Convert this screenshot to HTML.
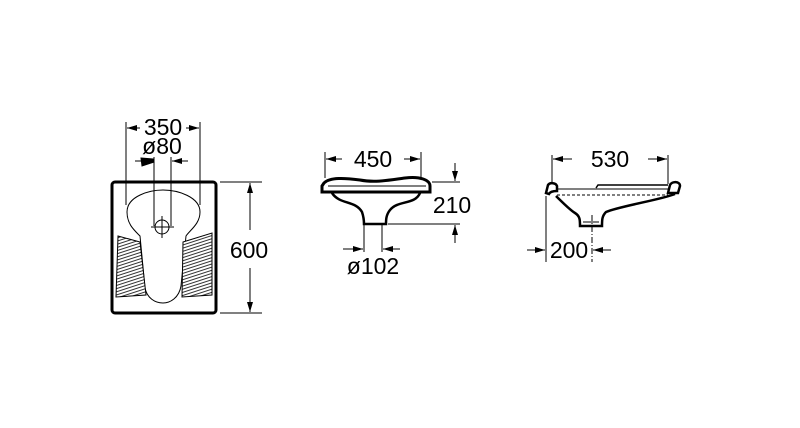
<!DOCTYPE html>
<html><head><style>body{margin:0;background:#fff}svg{display:block}text{font-family:"Liberation Sans",sans-serif;font-size:23px;fill:#000}</style></head><body>
<svg width="800" height="428" viewBox="0 0 800 428" xmlns="http://www.w3.org/2000/svg">
<defs>
<marker id="a" markerWidth="10" markerHeight="6" refX="10" refY="3" orient="auto" markerUnits="userSpaceOnUse"><path d="M0,0 L10,3 L0,6 Z"/></marker>
<pattern id="h" width="8" height="6" patternUnits="userSpaceOnUse" patternTransform="rotate(-18)"><rect width="8" height="6" fill="#fff"/><line x1="0" y1="1.5" x2="8" y2="1.5" stroke="#000" stroke-width="0.8"/><line x1="0" y1="4.5" x2="8" y2="4.5" stroke="#000" stroke-width="0.8"/></pattern>
</defs>
<g fill="none" stroke="#000" stroke-width="1">
<rect x="112" y="182" width="104" height="131" rx="3" stroke-width="3"/>
<path d="M127,212 C127,196 150,190 163,190 C178,190 200,197 200,212 C200,224 190,230 186,236 L181,286 C179,298 170,303 163,303 C155,303 147,298 145,288 L140,236 C134,230 127,224 127,212 Z"/>
<path d="M118,236 L140,242 L146,295 L116,297 Z" fill="url(#h)"/>
<path d="M183,242 L212,233 L212,295 L182,297 Z" fill="url(#h)"/>
<circle cx="162" cy="227" r="7"/>
<line x1="151" y1="227" x2="174" y2="227"/><line x1="162" y1="216" x2="162" y2="238"/>
<line x1="126" y1="122" x2="126" y2="205"/><line x1="200" y1="122" x2="200" y2="205"/>
<line x1="140" y1="128" x2="127" y2="128" marker-end="url(#a)"/><line x1="186" y1="128" x2="199" y2="128" marker-end="url(#a)"/>
<line x1="154" y1="157" x2="154" y2="226"/><line x1="171" y1="157" x2="171" y2="226"/>
<path d="M141,158 L153,159 L154,162 L142,166 Z" fill="#000"/><line x1="135" y1="161" x2="153" y2="161" marker-end="url(#a)"/>
<line x1="188" y1="161" x2="172" y2="161" marker-end="url(#a)"/>
<line x1="220" y1="182" x2="262" y2="182"/><line x1="220" y1="313" x2="262" y2="313"/>
<line x1="250" y1="230" x2="250" y2="183" marker-end="url(#a)"/><line x1="250" y1="268" x2="250" y2="312" marker-end="url(#a)"/>
<path d="M324,183 C330,177 345,178 360,180 C375,183 390,180 405,178 C420,176 430,180 430,186 L430,192 L322,192 L322,186 Z" stroke-width="3"/>
<line x1="328" y1="186" x2="426" y2="186"/>
<path d="M332,193 C340,205 355,200 362,212 C364,218 364,222 364,224 L386,224 C386,220 386,215 390,210 C398,200 415,205 420,193" stroke-width="2.5"/>
<line x1="325" y1="152" x2="325" y2="178"/><line x1="421" y1="152" x2="421" y2="178"/>
<line x1="342" y1="159" x2="326" y2="159" marker-end="url(#a)"/><line x1="404" y1="159" x2="420" y2="159" marker-end="url(#a)"/>
<line x1="432" y1="182" x2="460" y2="182"/><line x1="388" y1="224" x2="460" y2="224"/>
<line x1="455" y1="163" x2="455" y2="181" marker-end="url(#a)"/><line x1="455" y1="243" x2="455" y2="225" marker-end="url(#a)"/>
<line x1="364" y1="224" x2="364" y2="252"/><line x1="382" y1="224" x2="382" y2="252"/>
<line x1="343" y1="249" x2="363" y2="249" marker-end="url(#a)"/><line x1="400" y1="249" x2="383" y2="249" marker-end="url(#a)"/>
<path d="M546,193 L548,185 C550,182 556,183 557,186 L557,191 C553,191 550,192 549,194 Z" stroke-width="2.5"/>
<path d="M668,193 L670,185 C672,181 680,181 680,186 L678,193 Z" stroke-width="2.5"/>
<line x1="557" y1="189" x2="668" y2="189"/><path d="M596,188 L598,185 L668,185" stroke-width="1.5"/>
<line x1="557" y1="195" x2="668" y2="195" stroke-dasharray="3,2"/>
<path d="M556,196 C562,202 570,210 575,213 C580,216 580,220 580,226 L602,226 C602,220 602,216 606,212 C620,206 660,200 675,194" stroke-width="2.5"/>
<line x1="583" y1="222" x2="599" y2="222"/>
<line x1="552" y1="155" x2="552" y2="184"/><line x1="668" y1="155" x2="668" y2="184"/>
<line x1="572" y1="159" x2="553" y2="159" marker-end="url(#a)"/><line x1="648" y1="159" x2="667" y2="159" marker-end="url(#a)"/>
<line x1="546" y1="196" x2="546" y2="262"/>
<line x1="592" y1="215" x2="592" y2="262" stroke-dasharray="6,2,1,2"/>
<line x1="527" y1="250" x2="545" y2="250" marker-end="url(#a)"/><line x1="611" y1="250" x2="593" y2="250" marker-end="url(#a)"/>
</g>
<text x="163" y="135" text-anchor="middle">350</text>
<text x="162" y="154" text-anchor="middle">ø80</text>
<text x="249" y="258" text-anchor="middle">600</text>
<text x="373" y="167" text-anchor="middle">450</text>
<text x="452" y="213" text-anchor="middle">210</text>
<text x="373" y="274" text-anchor="middle">ø102</text>
<text x="610" y="167" text-anchor="middle">530</text>
<text x="569" y="258" text-anchor="middle">200</text>
</svg>
</body></html>
